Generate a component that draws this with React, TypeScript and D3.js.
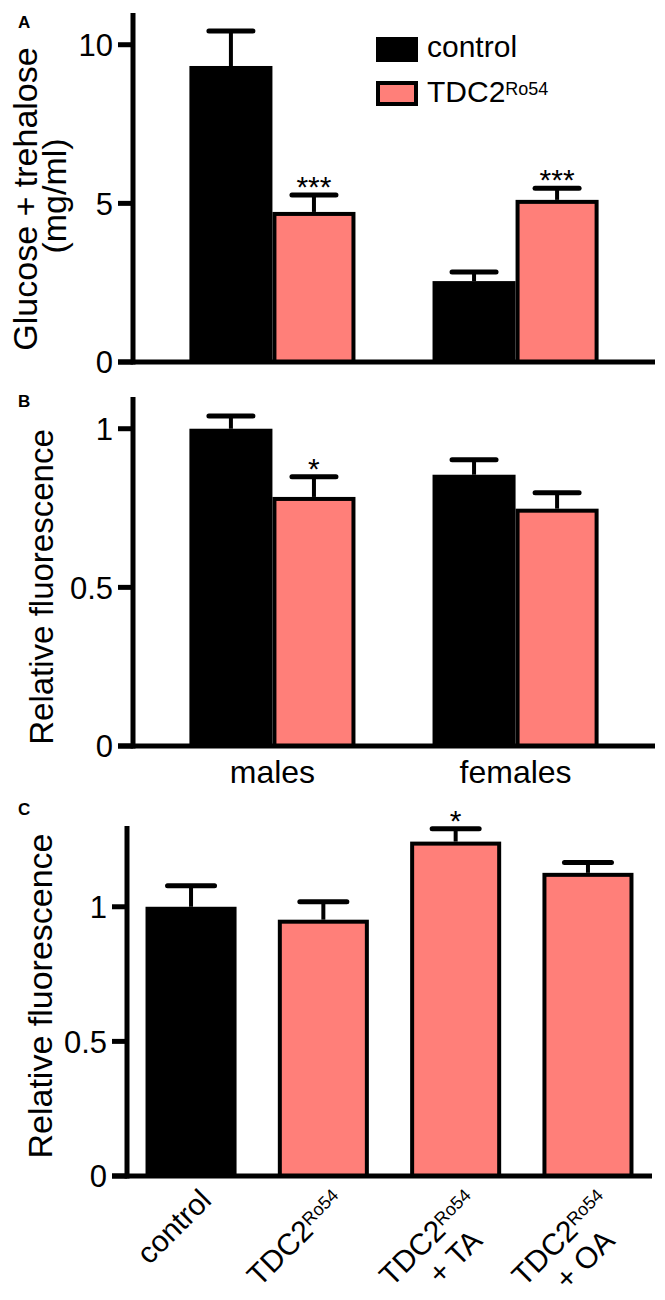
import React from "react";
import * as d3 from "d3";

// ---- data ----
const sexGroups = ["males", "females"];

// panel A: glucose + trehalose (mg/ml)
const sugarControl = [9.33, 2.55];
const sugarControlErr = [1.1, 0.29];
const sugarMutant = [4.73, 5.11];
const sugarMutantErr = [0.53, 0.37];
const sugarMutantSig = ["***", "***"];
const sugarTicks = [0, 5, 10];

// panel B: relative fluorescence by sex
const fluorControl = [1.0, 0.855];
const fluorControlErr = [0.04, 0.047];
const fluorMutant = [0.785, 0.748];
const fluorMutantErr = [0.064, 0.05];
const fluorMutantSig = ["*", ""];
const fluorTicks = [0, 0.5, 1];

// panel C: rescue with TA / OA
const rescueGroups = ["control", "TDC2", "TDC2 + TA", "TDC2 + OA"];
const rescueLine2 = ["", "", "+ TA", "+ OA"];
const rescueValues = [1.0, 0.952, 1.242, 1.126];
const rescueErr = [0.078, 0.067, 0.048, 0.038];
const rescueSig = ["", "", "*", ""];
const rescueTicks = [0, 0.5, 1];

const W = 665;
const H = 1300;
const FONT = "'Liberation Sans', Arial, Helvetica, sans-serif";
const PINK = "#FF7F79";
const AXIS_W = 5;

type Scale = d3.ScaleLinear<number, number>;

function YAxis({ x, y, ticks, fmt, xEnd }: { x: number; y: Scale; ticks: number[]; fmt: (v: number) => string; xEnd: number }) {
  const [lo, hi] = y.domain();
  return (
    <g>
      <line x1={x} x2={x} y1={y(hi)} y2={y(lo) + AXIS_W / 2} stroke="#000" strokeWidth={AXIS_W} />
      <line x1={x - 15} x2={xEnd} y1={y(lo)} y2={y(lo)} stroke="#000" strokeWidth={AXIS_W} />
      {ticks.map((t) => (
        <g key={t}>
          <line x1={x - 15} x2={x} y1={y(t)} y2={y(t)} stroke="#000" strokeWidth={AXIS_W} />
          <text x={x - 20} y={y(t)} dy="0.36em" textAnchor="end" fontSize={31} fontFamily={FONT}>
            {fmt(t)}
          </text>
        </g>
      ))}
    </g>
  );
}

function Bar({ x, w, v, err, y, fill, capW, sig }: { x: number; w: number; v: number; err: number; y: Scale; fill: string; capW: number; sig?: string }) {
  const y0 = y(0);
  const top = y(v);
  const cap = y(v + err);
  const cx = x + w / 2;
  const pink = fill !== "#000";
  return (
    <g>
      <line x1={cx} x2={cx} y1={top} y2={cap} stroke="#000" strokeWidth={4} />
      <line x1={cx - capW / 2} x2={cx + capW / 2} y1={cap} y2={cap} stroke="#000" strokeWidth={5} strokeLinecap="round" />
      {pink ? (
        <rect x={x + 2} y={top + 2} width={w - 4} height={y0 - top - 2} fill={fill} stroke="#000" strokeWidth={4} />
      ) : (
        <rect x={x} y={top} width={w} height={y0 - top} fill="#000" />
      )}
      {sig && (
        <text x={cx} y={cap + 2} textAnchor="middle" fontSize={30} fontFamily={FONT}>
          {sig}
        </text>
      )}
    </g>
  );
}

export default function App() {
  // panel A
  const xA = d3.scaleBand<string>().domain(sexGroups).range([133, 655]).paddingInner(0.317).paddingOuter(0.232);
  const inner = d3.scaleBand<number>().domain([0, 1]).range([0, xA.bandwidth()]);
  const yA = d3.scaleLinear().domain([0, 11]).range([362, 13]);
  // panel B
  const yB = d3.scaleLinear().domain([0, 1.1]).range([746, 397]);
  // panel C
  const xC = d3.scaleBand<string>().domain(rescueGroups).range([127, 652]).paddingInner(0.312).paddingOuter(0.14);
  const yC = d3.scaleLinear().domain([0, 1.3]).range([1176, 826]);

  const fmtA = (v: number) => d3.format("d")(v);
  const fmtB = (v: number) => (v === 0.5 ? "0.5" : d3.format("d")(v));

  return (
    <svg width={W} height={H} style={{ position: "absolute", left: 0, top: 0, background: "#fff" }} fontFamily={FONT}>
      <rect width={W} height={H} fill="#fff" />

      {/* ---- A ---- */}
      <text x={18} y={28} fontSize={17} fontWeight="bold">A</text>
      <text transform="translate(37,199) rotate(-90)" textAnchor="middle" fontSize={34}>Glucose + trehalose</text>
      <text transform="translate(66,196) rotate(-90)" textAnchor="middle" fontSize={34}>(mg/ml)</text>
      {sexGroups.map((g, i) => (
        <g key={g}>
          <Bar x={xA(g)!} w={inner.bandwidth()} v={sugarControl[i]} err={sugarControlErr[i]} y={yA} fill="#000" capW={44} />
          <Bar x={xA(g)! + inner(1)!} w={inner.bandwidth()} v={sugarMutant[i]} err={sugarMutantErr[i]} y={yA} fill={PINK} capW={44} sig={sugarMutantSig[i]} />
        </g>
      ))}
      <YAxis x={133} y={yA} ticks={sugarTicks} fmt={fmtA} xEnd={655} />

      {/* legend */}
      <rect x={376} y={37} width={42} height={25} fill="#000" />
      <text x={427} y={57} fontSize={30}>control</text>
      <rect x={378} y={83} width={38} height={21} fill={PINK} stroke="#000" strokeWidth={4} />
      <text x={427} y={102} fontSize={30}>
        TDC2<tspan fontSize={18} dy={-7}>Ro54</tspan>
      </text>

      {/* ---- B ---- */}
      <text x={18} y={407} fontSize={17} fontWeight="bold">B</text>
      <text transform="translate(53,587) rotate(-90)" textAnchor="middle" fontSize={33}>Relative fluorescence</text>
      {sexGroups.map((g, i) => (
        <g key={g}>
          <Bar x={xA(g)!} w={inner.bandwidth()} v={fluorControl[i]} err={fluorControlErr[i]} y={yB} fill="#000" capW={44} />
          <Bar x={xA(g)! + inner(1)!} w={inner.bandwidth()} v={fluorMutant[i]} err={fluorMutantErr[i]} y={yB} fill={PINK} capW={44} sig={fluorMutantSig[i]} />
          <text x={xA(g)! + xA.bandwidth() / 2} y={783} textAnchor="middle" fontSize={32}>{g}</text>
        </g>
      ))}
      <YAxis x={133} y={yB} ticks={fluorTicks} fmt={fmtB} xEnd={655} />

      {/* ---- C ---- */}
      <text x={18} y={815} fontSize={17} fontWeight="bold">C</text>
      <text transform="translate(52,996) rotate(-90)" textAnchor="middle" fontSize={34}>Relative fluorescence</text>
      {rescueGroups.map((g, i) => {
        const cx = xC(g)! + xC.bandwidth() / 2;
        return (
          <g key={g}>
            <Bar x={xC(g)!} w={xC.bandwidth()} v={rescueValues[i]} err={rescueErr[i]} y={yC} fill={i === 0 ? "#000" : PINK} capW={47} sig={rescueSig[i]} />
            <g transform={`translate(${cx + 22},1202) rotate(-45)`} fontSize={30}>
              <text textAnchor="end">
                {i === 0 ? "control" : "TDC2"}
                {i > 0 && <tspan fontSize={18} dy={-8}>Ro54</tspan>}
              </text>
              {rescueLine2[i] && (
                <text x={-24} y={33} textAnchor="end">{rescueLine2[i]}</text>
              )}
            </g>
          </g>
        );
      })}
      <YAxis x={127} y={yC} ticks={rescueTicks} fmt={fmtB} xEnd={652} />
    </svg>
  );
}
